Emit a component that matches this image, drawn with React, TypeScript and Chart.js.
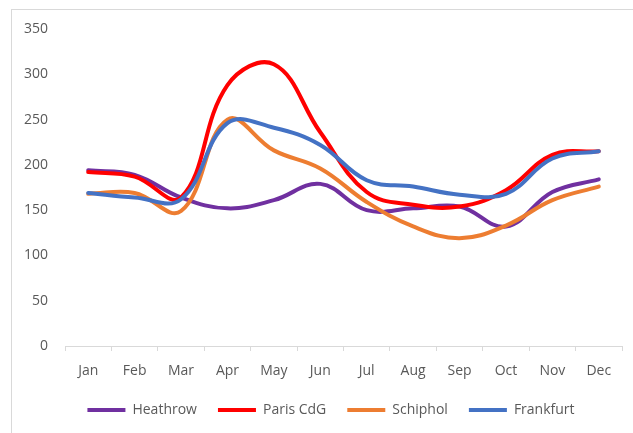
import React, { useEffect, useRef } from "react";
import { Chart, registerables } from "chart.js";

Chart.register(...registerables);

const months = ["Jan", "Feb", "Mar", "Apr", "May", "Jun", "Jul", "Aug", "Sep", "Oct", "Nov", "Dec"];
const heathrow = [194, 189, 164, 152, 161, 179, 150, 152, 154, 132, 170, 184];
const parisCdG = [192, 187, 164, 288, 311, 236, 170, 156, 154, 172, 211, 215];
const schiphol = [168, 169, 149, 250, 216, 196, 159, 132, 119, 133, 161, 176];
const frankfurt = [169, 164, 162, 246, 241, 222, 183, 176, 167, 168, 207, 215];
const seriesNames = ["Heathrow", "Paris CdG", "Schiphol", "Frankfurt"];
const seriesColors = ["#7030A0", "#FF0000", "#ED7D31", "#4472C4"];

const FONT = "'Open Sans', 'Noto Sans', sans-serif";
const TEXT = "#595959";
const AXIS = "#d9d9d9";

const legendShift = {
  id: "legendShift",
  afterLayout(chart: any) {
    const l = chart.legend;
    if (l) {
      l.left += 20;
      l.right += 20;
    }
  },
};

export default function App() {
  const ref = useRef<HTMLCanvasElement | null>(null);

  useEffect(() => {
    if (!ref.current) return;
    const values = [heathrow, parisCdG, schiphol, frankfurt];
    const chart = new Chart(ref.current, {
      type: "line",
      data: {
        labels: months,
        datasets: values.map((v, i) => ({
          label: seriesNames[i],
          data: v,
          borderColor: seriesColors[i],
          backgroundColor: seriesColors[i],
          borderWidth: 4,
          pointRadius: 0,
          tension: 0.4,
          fill: false,
          order: 4 - i,
          borderCapStyle: "round" as const,
        })),
      },
      options: {
        animation: false,
        responsive: false,
        maintainAspectRatio: false,
        layout: { padding: { top: 29, right: 11, left: 0, bottom: 6 } },
        plugins: {
          tooltip: { enabled: false },
          legend: {
            position: "bottom",
            labels: {
              boxWidth: 38,
              boxHeight: 4,
              padding: 21,
              color: TEXT,
              font: { family: FONT, size: 14 },
              sort: (a: any, b: any) => a.datasetIndex - b.datasetIndex,
              generateLabels: (c: any) =>
                c.data.datasets.map((d: any, i: number) => ({
                  text: d.label,
                  fillStyle: d.borderColor,
                  strokeStyle: d.borderColor,
                  lineWidth: 0,
                  hidden: false,
                  datasetIndex: i,
                  fontColor: TEXT,
                })),
            },
          },
        },
        scales: {
          x: {
            offset: true,
            grid: {
              display: true,
              offset: true,
              drawOnChartArea: false,
              drawTicks: true,
              tickLength: 5,
              color: AXIS,
            },
            border: { display: true, color: AXIS, width: 1 },
            ticks: {
              color: TEXT,
              font: { family: FONT, size: 14 },
              padding: 12,
              maxRotation: 0,
              autoSkip: false,
            },
            afterFit: (s: any) => {
              s.height = 36;
            },
          },
          y: {
            min: 0,
            max: 350,
            grid: { display: false, drawTicks: false },
            border: { display: false },
            ticks: {
              stepSize: 50,
              padding: 17,
              color: TEXT,
              font: { family: FONT, size: 14 },
            },
            afterFit: (s: any) => {
              s.width = 65;
            },
          },
        },
      },
      plugins: [legendShift],
    });
    return () => chart.destroy();
  }, []);

  return (
    <div style={{ position: "absolute", left: 0, top: 0, width: 633, height: 433, background: "#fff", overflow: "hidden" }}>
      <div
        style={{
          position: "absolute",
          left: 11,
          top: 9,
          width: 700,
          height: 500,
          borderLeft: "1px solid #d9d9d9",
          borderTop: "1px solid #d9d9d9",
        }}
      />
      <canvas ref={ref} width={633} height={433} style={{ position: "absolute", left: 0, top: 0, width: 633, height: 433 }} />
    </div>
  );
}
